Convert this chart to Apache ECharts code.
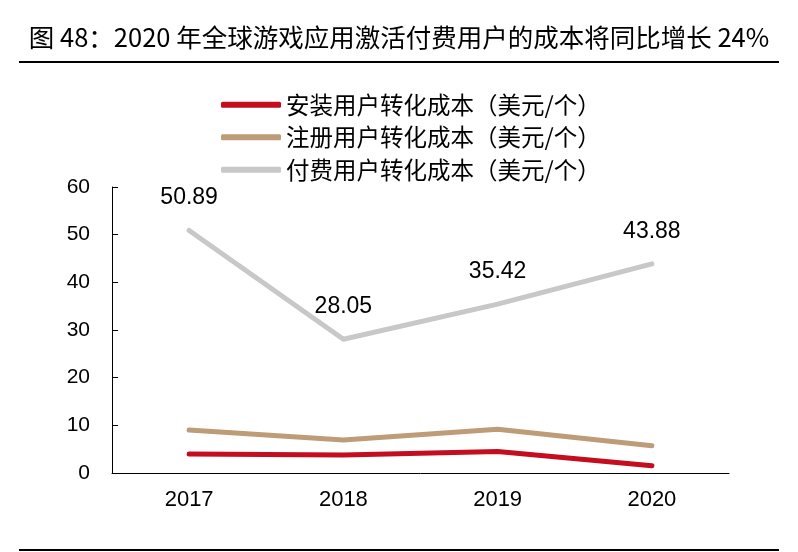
<!DOCTYPE html>
<html>
<head>
<meta charset="utf-8">
<script src="https://cdn.jsdelivr.net/npm/echarts@6/dist/echarts.min.js"></script>
<style>
  html, body { margin: 0; padding: 0; background: #fff; }
  #chart { width: 798px; height: 552px; }
</style>
</head>
<body>
<div id="chart"></div>
<script>
// 数据
const years = ["2017", "2018", "2019", "2020"]
const installCost = [4.0, 3.8, 4.5, 1.5]
const registerCost = [9.0, 6.9, 9.2, 5.7]
const payCost = [50.89, 28.05, 35.42, 43.88]
const yTicks = { min: 0, max: 60, interval: 10 }

const titleText = "图 48：2020 年全球游戏应用激活付费用户的成本将同比增长 24%"
const seriesNames = ["安装用户转化成本（美元/个）", "注册用户转化成本（美元/个）", "付费用户转化成本（美元/个）"]
const colors = ["#C40D1E", "#BE9C78", "#C8C8C8"]

const numFont = "'Liberation Sans', Arial, sans-serif"
const cjkFont = "'Noto Sans CJK SC', sans-serif"

const chart = echarts.init(document.getElementById("chart"))

chart.setOption({
    animation: false,
    title: {
        text: titleText,
        left: "center",
        top: 20,
        textStyle: {
            fontFamily: "'Liberation Sans Narrow', 'Noto Sans CJK SC', sans-serif",
            fontSize: 25.5,
            fontWeight: "normal",
            color: "#000",
        },
    },
    graphic: [
        { type: "rect", shape: { x: 19, y: 61, width: 760, height: 2 }, style: { fill: "#000" } },
        { type: "rect", shape: { x: 19, y: 549, width: 760, height: 2 }, style: { fill: "#000" } },
    ],
    legend: {
        orient: "vertical",
        left: 216,
        top: 88,
        itemWidth: 60,
        itemHeight: 6,
        itemGap: 9,
        icon: "roundRect",
        data: seriesNames,
        textStyle: {
            fontFamily: cjkFont,
            fontSize: 23.5,
            color: "#000",
        },
    },
    grid: {
        left: 112,
        right: 69,
        top: 187,
        bottom: 79,
    },
    xAxis: {
        type: "category",
        data: years,
        boundaryGap: true,
        axisLine: { lineStyle: { color: "#000", width: 1 } },
        axisTick: { inside: true, length: 6, lineStyle: { color: "#000" } },
        axisLabel: {
            margin: 16,
            fontFamily: numFont,
            fontSize: 22,
            color: "#000",
        },
        splitLine: { show: false },
    },
    yAxis: {
        type: "value",
        min: yTicks.min,
        max: yTicks.max,
        interval: yTicks.interval,
        axisLine: { show: true, lineStyle: { color: "#000", width: 1 } },
        axisTick: { show: true, inside: true, length: 6, lineStyle: { color: "#000" } },
        axisLabel: {
            margin: 22,
            fontFamily: numFont,
            fontSize: 21,
            color: "#000",
        },
        splitLine: { show: false },
    },
    series: [
        {
            name: seriesNames[0],
            type: "line",
            data: installCost,
            showSymbol: false,
            color: colors[0],
            lineStyle: { width: 5, color: colors[0], cap: "round", join: "round" },
        },
        {
            name: seriesNames[1],
            type: "line",
            data: registerCost,
            showSymbol: false,
            color: colors[1],
            lineStyle: { width: 5, color: colors[1], cap: "round", join: "round" },
        },
        {
            name: seriesNames[2],
            type: "line",
            data: payCost,
            showSymbol: true,
            symbolSize: 0,
            color: colors[2],
            lineStyle: { width: 5, color: colors[2], cap: "round", join: "round" },
            label: {
                show: true,
                position: "top",
                distance: 21,
                fontFamily: numFont,
                fontSize: 23,
                color: "#000",
                formatter: p => p.value.toFixed(2),
            },
        },
    ],
})
</script>
</body>
</html>
